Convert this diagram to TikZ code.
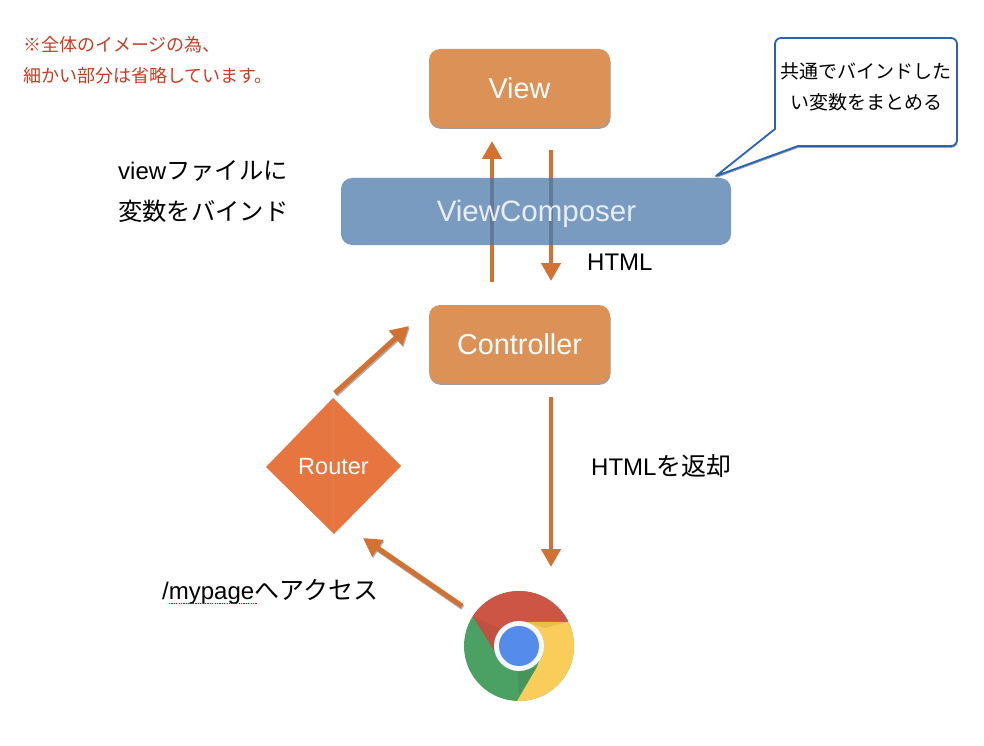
\documentclass[tikz,border=0pt]{standalone}
\usepackage{fontspec}
\setmainfont{Liberation Sans}
\newfontfamily\cjk{Noto Sans CJK JP}
\usetikzlibrary{arrows.meta,shapes.geometric,shadows,fadings}
\definecolor{boxorange}{RGB}{220,145,86}
\definecolor{routerorange}{RGB}{230,117,64}
\definecolor{arroworange}{RGB}{210,113,50}
\definecolor{vcblue}{RGB}{99,138,182}
\definecolor{overlapblue}{RGB}{100,121,152}
\definecolor{callblue}{RGB}{40,100,180}
\definecolor{redtext}{RGB}{196,62,36}
\definecolor{cred}{RGB}{205,85,70}
\definecolor{cgreen}{RGB}{75,160,100}
\definecolor{cyellow}{RGB}{250,205,90}
\definecolor{cblue}{RGB}{85,140,235}
\tikzset{
  softshadow/.style={drop shadow={shadow xshift=.5pt,shadow yshift=-1.8pt,opacity=.5,fill=black!75}},
  bigbox/.style={rectangle,rounded corners=11pt,fill=boxorange,text=white,font=\fontsize{28.8}{30}\selectfont,minimum width=181pt,minimum height=78pt,inner sep=0pt,softshadow},
  flow/.style={draw=arroworange,line width=4.4pt,-{Triangle[length=18pt,width=19pt,fill=arroworange]}},
  flowdiag/.style={flow,line width=5pt},
  flowshade/.style={draw=black!45,line width=5pt,-{Triangle[length=18pt,width=19pt,fill=black!45]},opacity=.7,transform canvas={xshift=.8pt,yshift=-1.6pt}},
  overlap/.style={draw=overlapblue,line width=4.4pt},
  txt/.style={anchor=west,inner sep=0pt,text=black,font=\fontsize{24}{26}\selectfont},
  note/.style={anchor=west,inner sep=0pt,text=redtext,font=\cjk\fontsize{18}{20}\selectfont},
  squiggle/.style={draw=red!85!black,line width=1pt,dash pattern=on 1.2pt off 1.2pt},
}
\begin{document}
\begin{tikzpicture}[x=1pt,y=-1pt]
\useasboundingbox[fill=white] (0,0) rectangle (984,746);
% named free ends
\coordinate (upS) at (492,282);   \coordinate (upE) at (492,141);
\coordinate (dnS) at (551,150);   \coordinate (dnE) at (551,281);
\coordinate (rcS) at (335,393);   \coordinate (rcE) at (409,326);
\coordinate (cbS) at (551,397);   \coordinate (cbE) at (551,567);
\coordinate (brS) at (462,606);   \coordinate (brE) at (363,538);
% shadows of arrows
\draw[flowshade] (rcS) -- (rcE);
\draw[flowshade] (brS) -- (brE);
% arrows
\draw[flow] (upS) -- (upE);
\draw[flow] (dnS) -- (dnE);
\draw[flowdiag] (rcS) -- (rcE);
\draw[flow] (cbS) -- (cbE);
\draw[flowdiag] (brS) -- (brE);
% boxes
\node[bigbox] (view) at (519.5,88) {View};
\node[bigbox] (controller) at (519.5,344) {Controller};
\node[rectangle,rounded corners=11pt,fill=vcblue,fill opacity=.85,minimum width=390pt,minimum height=67pt,inner sep=0pt] (composer) at (536,211.5) {};
\draw[overlap] (upS |- composer.north) -- (upS |- composer.south);
\draw[overlap] (dnS |- composer.north) -- (dnS |- composer.south);
\node[text=white!85!vcblue,font=\fontsize{29.5}{30}\selectfont,inner sep=0pt] (composerlabel) at (536.5,214) {ViewComposer};
% router
\fill[routerorange] (333,398) -- (401,466) -- (334,534) -- (266,467) -- cycle;
\draw[routerorange!95!white,line width=.5pt] (333.5,399) -- (333.5,533);
\node[text=white,font=\fontsize{23.5}{24}\selectfont,inner sep=0pt] (router) at (333.5,467) {Router};
% callout
\path[draw=callblue,line width=1.8pt,fill=white,line join=round,drop shadow={shadow xshift=.5pt,shadow yshift=-1.8pt,opacity=.5,fill=black!75}]
  (716,176) -- (798,146) [rounded corners=6pt] -- (957,146) -- (957,38) -- (775,38) [sharp corners] -- (775,129) -- cycle;
\node[font=\cjk\fontsize{19}{31}\selectfont,align=center,inner sep=0pt,text=black] (callout) at (866,86.5) {共通でバインドした\\い変数をまとめる};
% labels
\node[note] (n1) at (23,45) {※全体のイメージの為、};
\node[note] (n2) at (23,76) {細かい部分は省略しています。};
\node[txt] (l1) at (118,171) {view{\cjk\fontsize{24.3}{26}\selectfont ファイルに}};
\node[txt,font=\cjk\fontsize{24.3}{26}\selectfont] (l2) at (118,211) {変数をバインド};
\node[txt] (html) at (587,262) {HTML};
\node[txt] (ret) at (591,466) {HTML{\cjk\fontsize{25}{26}\selectfont を返却}};
\node[txt] (acc) at (162,592) {/mypage{\cjk\fontsize{25}{26}\selectfont へアクセス}};
\coordinate (sqA) at (169,603); \coordinate (sqB) at (257,603);
\draw[squiggle] (sqA) -- (sqB);
% chrome logo
\node[circle,fill=cgreen,minimum size=110pt,inner sep=0pt] (chrome) at (519,646) {};
\begin{scope}
\clip (519,646) circle[radius=55];
\fill[cred] (495,652) -- (519,621) -- (580,621.5) -- (580,580) -- (450,580) -- cycle;
\fill[cyellow] (519,622) -- (590,622) -- (590,720) -- (506,720) -- (537,667) -- (544,646) -- cycle;
\fill[black,opacity=.06] (473,617) -- (495,652) -- (499,628) -- cycle;
\fill[black,opacity=.07] (525,622) -- (568,622) -- (545,628) -- cycle;
\fill[black,opacity=.07] (519,695) -- (537,667) -- (518,672) -- cycle;
\end{scope}
\fill[white!94!cblue] (519,646) circle[radius=25];
\fill[cblue] (519,646) circle[radius=20];
\end{tikzpicture}
\end{document}
